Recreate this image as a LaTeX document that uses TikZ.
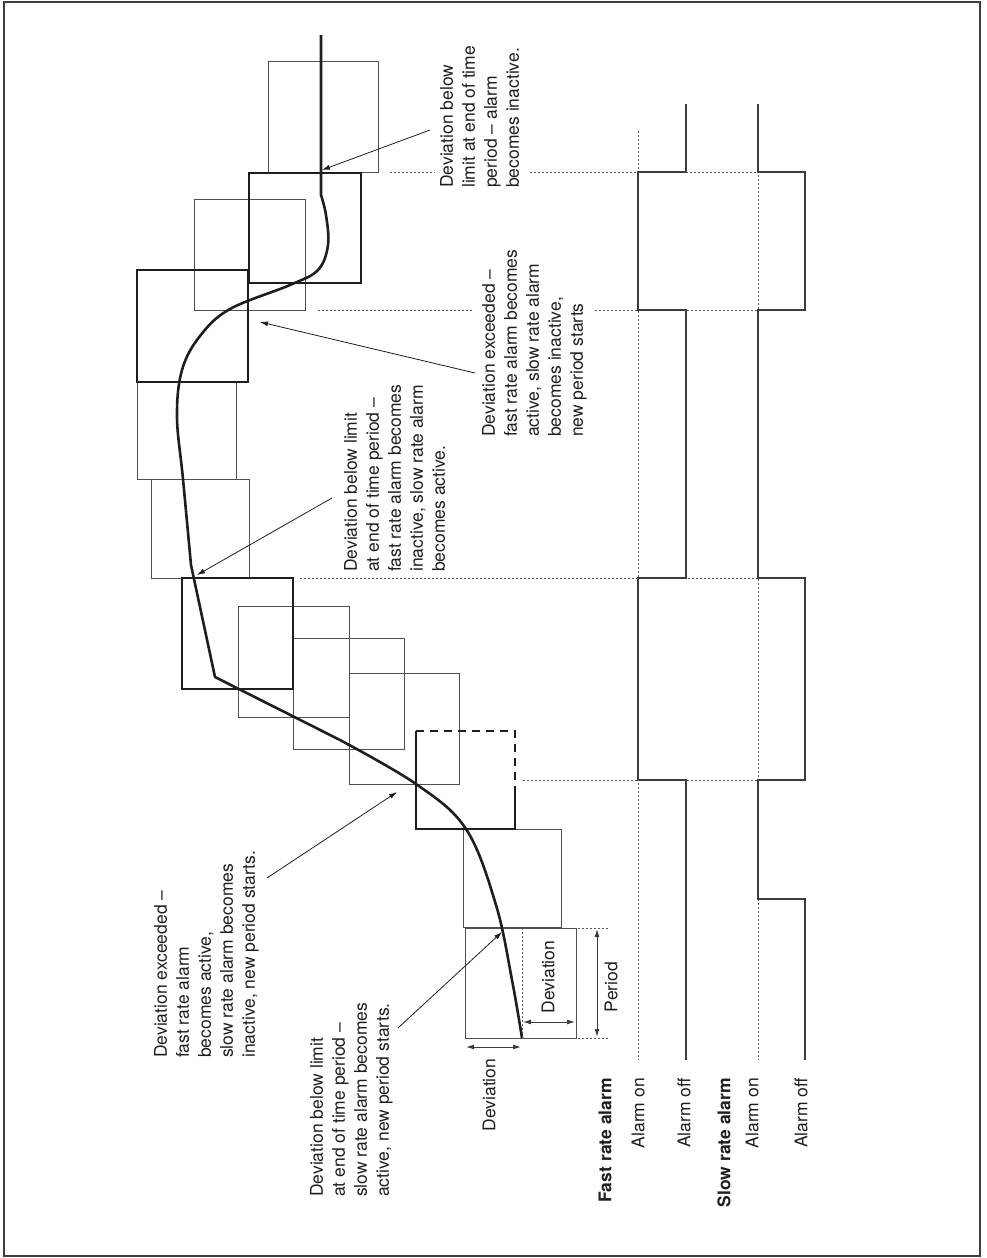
\documentclass[tikz,border=0pt]{standalone}
\usepackage{fontspec}
\setmainfont{TeX Gyre Heros}
\usetikzlibrary{arrows.meta,positioning,calc}
\definecolor{ink}{RGB}{30,30,30}
\definecolor{boxgray}{RGB}{80,80,80}
\definecolor{guide}{RGB}{90,90,90}
\definecolor{signal}{RGB}{60,60,60}

\begin{document}
\begin{tikzpicture}[x=1pt, y=-1pt, >={Latex[length=8pt,width=5pt]},
    thinbox/.style={boxgray, line width=1pt},
    boldbox/.style={ink, line width=2.6pt},
    guideline/.style={guide, line width=0.9pt, dash pattern=on 2pt off 2pt},
    note/.style={rotate=90, anchor=north west, align=left, inner sep=0pt, font=\fontsize{17.5}{22}\selectfont, ink},
    lbl/.style={rotate=90, anchor=east, inner sep=0pt, font=\fontsize{17.5}{20}\selectfont, ink},
    headlbl/.style={lbl, font=\fontsize{17.5}{20}\selectfont\bfseries}]

    \useasboundingbox (0,0) rectangle (986,1258);

    % Frame
    \draw[signal, line width=1.5pt] (4,2) rectangle (980,1256);

    % Sliding windows
    \foreach \xa/\ya/\xb/\yb in {465/928/576/1038, 463/829/561/927, 349/673/459/784, 293/638/404/749,
                                 238/606/349/717, 151/479/249/578, 137/382/236/479, 194/199/305/310, 268/61/378/172}
        \draw[thinbox] (\xa,\ya) rectangle (\xb,\yb);

    \foreach \xa/\ya/\xb/\yb in {182/578/293/689, 137/270/248/382, 249/173/361/283}
        \draw[boldbox] (\xa,\ya) rectangle (\xb,\yb);

    % Window with exceeded deviation
    \draw[boldbox] (515,786) -- (515,829) -- (416,829) -- (416,731);
    \draw[boldbox, dash pattern=on 8pt off 6pt] (416,731) -- (515,731) -- (515,786);

    % Measured value
    \draw[ink, line width=2.6pt, line join=round]
        plot[smooth, tension=0.6] coordinates {(522,1038) (512,980) (496,905) (466,829) (416,784) (340,740)}
        -- (215,677) -- (191,565)
        -- plot[smooth, tension=0.6] coordinates {(191,565) (183,479) (177,417) (182,370) (200,336) (230,309) (290,285) (318,270) (328,245) (326,215) (321,195)}
        -- (321,35);

    % Guide lines
    \draw[guideline] (638,131) -- (638,1060);
    \draw[guideline] (758,131) -- (758,1060);
    \draw[guideline] (390,172) -- (435,172);
    \draw[guideline] (530,172) -- (758,172);
    \draw[guideline] (318,310) -- (473,310);
    \draw[guideline] (595,310) -- (758,310);
    \draw[guideline] (300,578) -- (758,578);
    \draw[guideline] (523,780) -- (758,780);

    % Alarm signals
    \draw[signal, line width=1.4pt] (686,1060) -- (686,780) -- (638,780) -- (638,578) -- (686,578)
        -- (686,310) -- (638,310) -- (638,172) -- (686,172) -- (686,104);
    \draw[signal, line width=1.4pt] (805,1060) -- (805,899) -- (758,899) -- (758,780) -- (805,780)
        -- (805,578) -- (758,578) -- (758,310) -- (805,310) -- (805,172) -- (758,172) -- (758,104);

    % Dimensions
    \draw[guideline] (522,928) -- (522,1038);
    \draw[guideline] (578,928) -- (608,928);
    \draw[guideline] (578,1038) -- (608,1038);
    \draw[<->, signal, line width=1pt] (523,1022) -- (575,1022);
    \draw[<->, signal, line width=1pt] (466,1047) -- (521,1047);
    \draw[<->, signal, line width=1pt] (597,929) -- (597,1037);
    \node[lbl, anchor=center] (devin) at (548,977) {Deviation};
    \node[lbl, anchor=center] (devout) at (489,1095) {Deviation};
    \node[lbl, anchor=center] (period) at (611,987) {Period};

    % Notes
    \node[note] (exceedA) at (154,1058) {Deviation exceeded –\\fast rate alarm\\becomes active,\\slow rate alarm becomes\\inactive, new period starts.};
    \node[note] (belowA) at (310,1197) {Deviation below limit\\at end of time period –\\slow rate alarm becomes\\active, new period starts.};
    \node[note] (belowB) at (344,572) {Deviation below limit\\at end of time period –\\fast rate alarm becomes\\inactive, slow rate alarm\\becomes active.};
    \node[note] (exceedB) at (482,437) {Deviation exceeded –\\fast rate alarm becomes\\active, slow rate alarm\\becomes inactive,\\new period starts};
    \node[note] (belowC) at (440,188) {Deviation below\\limit at end of time\\period – alarm\\becomes inactive.};

    % Pointers
    \coordinate (exceedA-from) at (267,878);  \coordinate (exceedA-to) at (397,792);
    \coordinate (belowA-from) at (398,1028);  \coordinate (belowA-to) at (502,932);
    \coordinate (belowB-from) at (332,498);   \coordinate (belowB-to) at (197,575);
    \coordinate (exceedB-from) at (475,373);  \coordinate (exceedB-to) at (260,322);
    \coordinate (belowC-from) at (430,130);   \coordinate (belowC-to) at (322,170);
    \foreach \n in {exceedA, belowA, belowB, exceedB, belowC}
        \draw[->, ink, line width=0.8pt] (\n-from) -- (\n-to);

    % Signal labels
    \node[headlbl] (fast) at (605,1078) {Fast rate alarm};
    \node[lbl] (fast-on) at (638,1078) {Alarm on};
    \node[lbl] (fast-off) at (684,1078) {Alarm off};
    \node[headlbl] (slow) at (724,1078) {Slow rate alarm};
    \node[lbl] (slow-on) at (752,1078) {Alarm on};
    \node[lbl] (slow-off) at (801,1078) {Alarm off};

\end{tikzpicture}
\end{document}
